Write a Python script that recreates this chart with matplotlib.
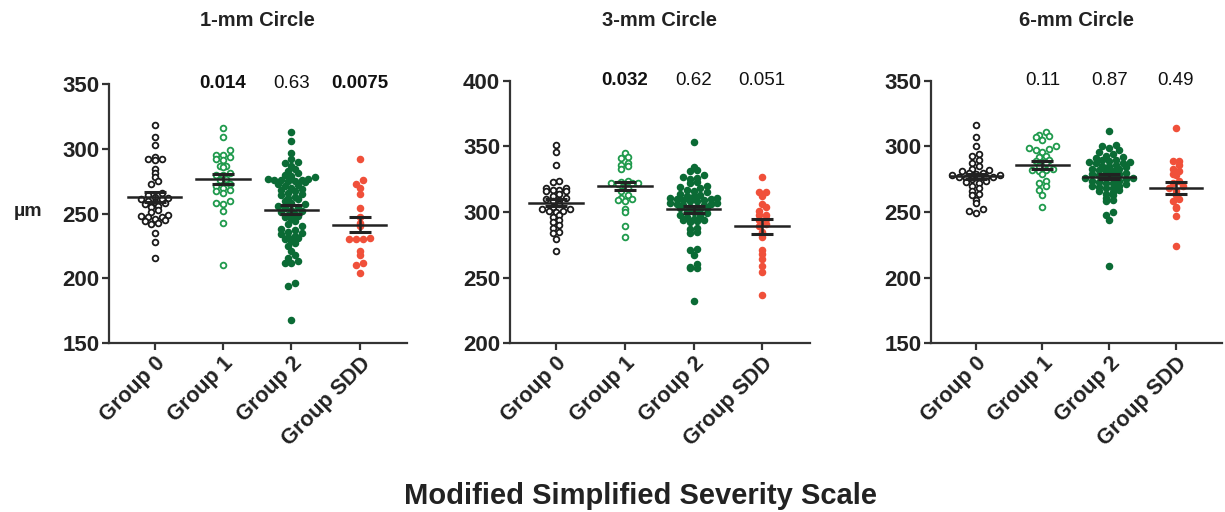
import numpy as np
import matplotlib
matplotlib.use("Agg")
import matplotlib.pyplot as plt

plt.rcParams['font.family'] = ['Liberation Sans', 'DejaVu Sans']

GROUPS = ["Group 0", "Group 1", "Group 2", "Group SDD"]
TITLES = ["1-mm Circle", "3-mm Circle", "6-mm Circle"]

# 1-mm circle, values in um
c1_g0 = [318, 309, 303, 294, 292, 292, 291, 284, 281, 278, 275, 273, 266, 264, 263, 262, 261,
         261, 260, 259, 258, 257, 256, 255, 253, 251, 249, 248, 247, 247, 246, 245, 244, 243,
         242, 235, 228, 216]
c1_g1 = [316, 309, 299, 295, 295, 294, 292, 291, 287, 287, 286, 281, 280, 280, 277, 276, 273,
         271, 270, 268, 267, 266, 260, 258, 257, 252, 243, 210]
c1_g2 = [313, 306, 297, 292, 290, 289, 287, 284, 283, 281, 280, 279, 278, 277, 277, 276, 276,
         276, 275, 275, 274, 273, 272, 271, 270, 269, 268, 267, 266, 265, 264, 263, 262, 261,
         260, 258, 257, 256, 255, 254, 253, 252, 251, 250, 249, 248, 247, 246, 244, 242, 240,
         238, 237, 236, 235, 234, 233, 232, 231, 230, 229, 227, 225, 221, 218, 216, 213, 212,
         212, 196, 194, 168]
c1_sdd = [292, 276, 273, 270, 265, 254, 247, 243, 240, 231, 230, 230, 230, 221, 218, 212, 210, 204]

# 3-mm circle
c3_g0 = [351, 346, 336, 324, 323, 318, 318, 317, 317, 316, 316, 314, 312, 311, 310, 309, 308,
         306, 304, 302, 302, 301, 301, 300, 298, 296, 294, 292, 290, 288, 285, 284, 279, 270]
c3_g1 = [345, 342, 341, 337, 336, 335, 333, 324, 323, 322, 322, 322, 321, 320, 318, 316, 313,
         311, 310, 309, 308, 302, 300, 289, 281]
c3_g2 = [353, 334, 332, 331, 328, 327, 326, 325, 323, 322, 320, 319, 318, 317, 316, 315, 314,
         313, 312, 312, 311, 311, 310, 310, 309, 309, 308, 308, 307, 307, 306, 306, 305, 305,
         304, 304, 303, 303, 302, 301, 300, 299, 298, 297, 296, 295, 294, 294, 293, 292, 288,
         287, 285, 284, 272, 271, 267, 260, 258, 257, 257, 232]
c3_sdd = [327, 315, 315, 312, 306, 304, 301, 298, 298, 295, 294, 291, 289, 285, 281, 271, 268,
          264, 259, 254, 237]

# 6-mm circle
c6_g0 = [316, 307, 300, 294, 293, 290, 287, 285, 283, 282, 281, 280, 280, 279, 278, 278, 277,
         277, 277, 276, 276, 275, 274, 273, 272, 270, 268, 266, 264, 263, 259, 257, 252, 251, 249]
c6_g1 = [311, 309, 308, 307, 305, 300, 299, 298, 297, 296, 293, 292, 290, 289, 288, 287, 285,
         283, 282, 282, 281, 279, 274, 272, 270, 267, 263, 254]
c6_g2 = [312, 301, 300, 299, 297, 296, 294, 293, 292, 291, 290, 290, 289, 288, 288, 287, 287,
         286, 285, 285, 284, 283, 283, 282, 281, 281, 280, 279, 279, 278, 278, 277, 276, 276,
         275, 274, 274, 273, 272, 272, 271, 270, 270, 269, 268, 268, 267, 266, 265, 264, 263,
         261, 259, 258, 250, 248, 244, 209]
c6_sdd = [314, 289, 289, 286, 283, 281, 279, 278, 274, 272, 270, 268, 266, 263, 260, 258, 254,
          253, 247, 224]

DATA = [[c1_g0, c1_g1, c1_g2, c1_sdd],
        [c3_g0, c3_g1, c3_g2, c3_sdd],
        [c6_g0, c6_g1, c6_g2, c6_sdd]]

MEANS = [[262.6, 276.6, 253.0, 241.5],
         [306.9, 319.6, 302.0, 289.0],
         [277.2, 286.1, 277.0, 268.3]]
SEMS = [[3.7, 4.1, 3.5, 5.5],
        [2.7, 3.0, 2.7, 5.5],
        [2.0, 3.0, 1.8, 4.5]]

PVALS = [["0.014", "0.63", "0.0075"],
         ["0.032", "0.62", "0.051"],
         ["0.11", "0.87", "0.49"]]
PBOLD = [[True, False, True],
         [True, False, False],
         [False, False, False]]

YLIMS = [(150, 350), (200, 400), (150, 350)]

FACE = ["white", "white", "#0b6b35", "#f0503a"]
EDGE = ["#1a1a1a", "#1f9a4c", "#0b6b35", "#f0503a"]

POS = [[0.089, 0.330, 0.243, 0.506],
       [0.4163, 0.330, 0.2447, 0.512],
       [0.760, 0.330, 0.2376, 0.512]]


def scatter_x(ax, x0, vals, dy=5.5, dx=6.8):
    """GraphPad-style column scatter: bin by pixel height, spread each row evenly."""
    pts = ax.transData.transform(np.column_stack([np.full(len(vals), x0), vals]))
    xc, ys = pts[0, 0], pts[:, 1]
    bins = np.floor((ys - ys.min()) / dy).astype(int)
    xs = np.full(len(vals), xc)
    for b in np.unique(bins):
        idx = np.where(bins == b)[0]
        idx = idx[np.argsort(ys[idx])]
        n = len(idx)
        offs = (np.arange(n) - (n - 1) / 2.0) * dx
        # alternate sides so close values don't all line up left to right
        order = np.argsort(np.abs(offs), kind="stable")
        xs[idx] = xc + offs[order]
    inv = ax.transData.inverted()
    return inv.transform(np.column_stack([xs, ys]))[:, 0]


fig = plt.figure(figsize=(12.25, 5.12), dpi=100)
ink = "#222222"

for p in range(3):
    ax = fig.add_axes(POS[p])
    ax.set_xlim(-0.67, 3.69)
    ax.set_ylim(*YLIMS[p])
    lo, hi = YLIMS[p]
    ax.set_yticks(np.arange(lo, hi + 1, 50))
    ax.set_xticks(range(4))
    ax.set_xticklabels(GROUPS, rotation=45, ha="right", rotation_mode="anchor",
                       fontsize=15.5, fontweight="bold", color=ink)
    for lab in ax.get_yticklabels():
        lab.set_fontsize(16)
        lab.set_fontweight("bold")
        lab.set_color(ink)
    for s in ["top", "right"]:
        ax.spines[s].set_visible(False)
    for s in ["left", "bottom"]:
        ax.spines[s].set_linewidth(1.6)
        ax.spines[s].set_color("#333333")
    ax.tick_params(axis="both", length=5, width=1.6, color="#333333", pad=2)

    for g in range(4):
        vals = np.array(DATA[p][g], dtype=float)
        xs = scatter_x(ax, g, vals)
        ax.scatter(xs, vals, s=17, facecolor=FACE[g], edgecolor=EDGE[g],
                   linewidths=1.3, zorder=3, clip_on=False)
        m, e = MEANS[p][g], SEMS[p][g]
        ax.plot([g - 0.39, g + 0.39], [m, m], color=ink, lw=1.8, zorder=4)
        ax.errorbar(g, m, yerr=e, fmt="none", ecolor=ink, elinewidth=1.8,
                    capsize=8, capthick=2.2, zorder=4)

    for g in range(1, 4):
        ax.text(g, hi, PVALS[p][g - 1], ha="center", va="center", fontsize=13.5,
                fontweight="bold" if PBOLD[p][g - 1] else "normal", color="#111111")

    bb = POS[p]
    fig.text(bb[0] + bb[2] / 2, 0.959, TITLES[p], ha="center", va="center",
             fontsize=14.5, fontweight="bold", color=ink)

fig.text(0.023, 1 - 212 / 512, "\u00b5m", ha="center", va="center",
         fontsize=14, fontweight="bold", color=ink)
fig.text(0.523, 1 - 496 / 512, "Modified Simplified Severity Scale", ha="center",
         va="center", fontsize=21, fontweight="bold", color=ink)

fig.savefig("out.png", dpi=100)
